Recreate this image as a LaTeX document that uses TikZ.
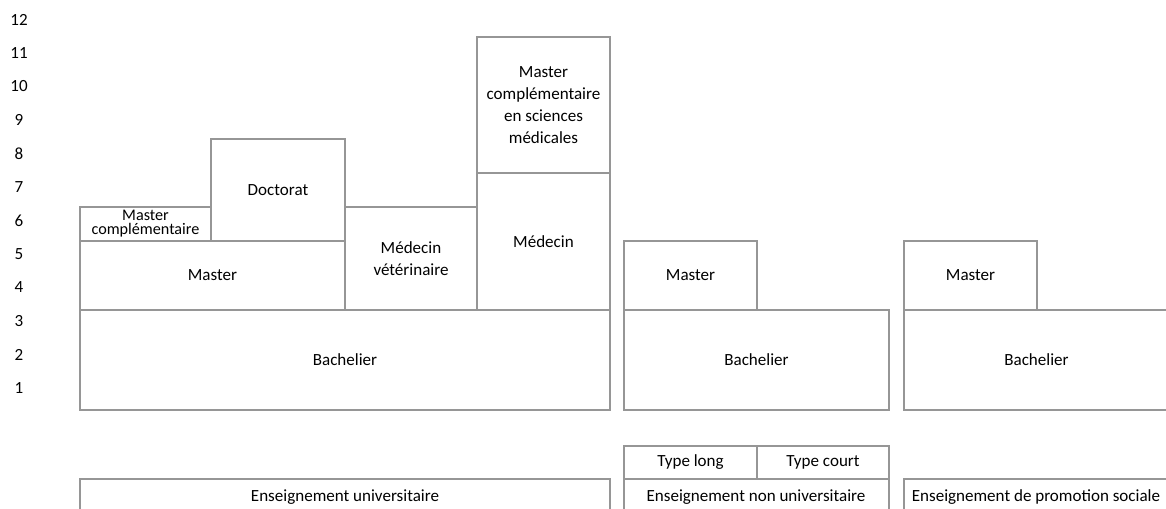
\documentclass[tikz,border=0pt]{standalone}
\usepackage{fontspec}
\setmainfont{Carlito}
\usetikzlibrary{positioning}
\definecolor{FrameGrey}{RGB}{150,150,150}
\newlength{\px}
\setlength{\px}{0.02cm}
\tikzset{
  chart style/.style={
    x=\px, y=-\px,
    font=\fontsize{9.7}{12.5}\selectfont,
  },
  cell/.style 2 args={
    draw=FrameGrey, line width=1.3pt,
    minimum width={#1*\px}, minimum height={#2*\px},
    inner sep=0pt, outer sep=0pt, align=center
  },
  frame/.style={
    draw=FrameGrey, line width=1.3pt
  },
  level label/.style={
    inner sep=0pt
  },
}

\begin{document}
\begin{tikzpicture}[chart style]
  \useasboundingbox (0,0) rectangle (1166,509);
  % years
  \foreach \n in {1,...,12}
    \node[level label] (lvl\n) at (19,{388-(\n-1)*33.5}) {\n};
  % enseignement universitaire
  \node[cell={530}{100}, anchor=north west] (bachU) at (80,310) {Bachelier};
  \node[cell={265}{69}, anchor=south west] (mastU) at (bachU.north west) {Master};
  \node[cell={131}{34}, anchor=south west, font=\fontsize{9.2}{8}\selectfont]
    (mcU) at (mastU.north west) {Master\\complémentaire};
  \node[cell={134}{102}, anchor=south east] (doct) at (mastU.north east) {Doctorat};
  \node[cell={132}{103}, anchor=south west] (medVet) at (mastU.south east) {Médecin\\vétérinaire};
  \node[cell={133}{137}, anchor=south east] (med) at (bachU.north east) {Médecin};
  \node[cell={133}{136}, anchor=south west] (mcsm) at (med.north west)
    {Master\\complémentaire\\en sciences\\médicales};
  % enseignement non universitaire
  \node[cell={265}{100}, anchor=north west] (bachNU) at (624,310) {Bachelier};
  \node[cell={133}{69}, anchor=south west] (mastNU) at (bachNU.north west) {Master};
  % promotion sociale
  \node[cell={265}{100}, anchor=north west] (bachPS) at (904,310) {Bachelier};
  \node[cell={133}{69}, anchor=south west] (mastPS) at (bachPS.north west) {Master};
  % types
  \node[cell={133}{33}, anchor=south west] (typeLong) at (624,479) {Type long};
  \node[cell={132}{33}, anchor=south west] (typeCourt) at (typeLong.south east) {Type court};
  % bottom labels
  \node (ensU) at (345,497) {Enseignement universitaire};
  \node (ensNU) at (756,497) {Enseignement non universitaire};
  \node (ensPS) at (1036,497) {Enseignement de promotion sociale};
  \draw[frame] (80,520) |- (610,479) -- (610,520);
  \draw[frame] (624,520) |- (889,479) -- (889,520);
  \draw[frame] (904,520) |- (1169,479) -- (1169,520);
\end{tikzpicture}
\end{document}
